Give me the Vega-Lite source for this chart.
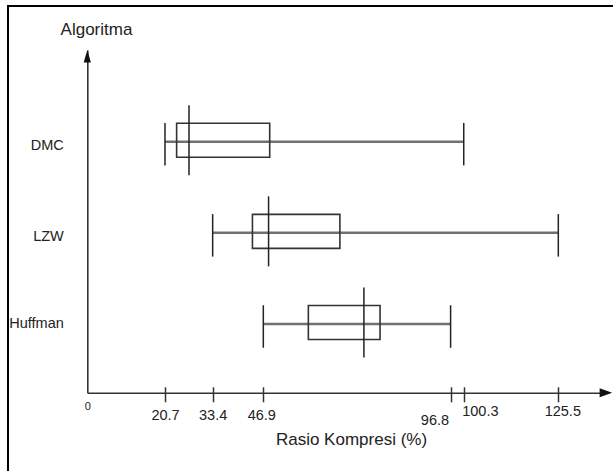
{
  "$schema": "https://vega.github.io/schema/vega-lite/v6.json",
  "width": 605,
  "height": 465,
  "autosize": "none",
  "padding": {"left": 8, "top": 6, "right": 0, "bottom": 0},
  "background": "white",
  "data": {"values": [
    {"algo": "DMC", "min": 20.7, "q1": 23.8, "median": 27.1, "q3": 48.6, "max": 100.3},
    {"algo": "LZW", "min": 33.4, "q1": 44.0, "median": 48.3, "q3": 67.3, "max": 125.5},
    {"algo": "Huffman", "min": 46.9, "q1": 58.9, "median": 73.7, "q3": 78.0, "max": 96.8}
  ]},
  "resolve": {"axis": {"x": "independent"}},
  "layer": [
    {
      "mark": {"type": "rule", "color": "#707070", "strokeWidth": 2.5},
      "encoding": {
        "x": {
          "field": "min", "type": "quantitative",
          "scale": {"domain": [0, 136.5], "range": [79.3, 591.6], "zero": false, "nice": false},
          "axis": {"orient": "bottom", "offset": -78.2, "domain": true, "domainColor": "#333", "domainWidth": 1.6, "ticks": false, "labels": false, "title": null, "grid": false}
        },
        "x2": {"field": "max"},
        "y": {
          "field": "algo", "type": "nominal",
          "scale": {"domain": ["DMC", "LZW", "Huffman"], "range": [44, 386.8], "paddingInner": 0, "paddingOuter": 0.3804, "align": 0.665, "round": false},
          "axis": {
            "orient": "left", "offset": -79.3, "domain": true, "domainColor": "#333", "domainWidth": 1.6,
            "ticks": false, "grid": false,
            "labelFontSize": 14.5, "labelColor": "#222", "labelPadding": 24,
            "labelOffset": {"condition": {"test": "datum.value == 'Huffman'", "value": 0}, "value": 4.5},
            "title": "Algoritma", "titleAngle": 0, "titleX": 8.7, "titleY": 28,
            "titleAlign": "center", "titleBaseline": "alphabetic",
            "titleFontSize": 17, "titleFontWeight": "normal", "titleColor": "#222"
          }
        }
      }
    },
    {
      "layer": [
        {
          "mark": {"type": "bar", "height": 34, "yOffset": -1.5, "fill": "white", "fillOpacity": 0, "stroke": "#333", "strokeWidth": 1.6},
          "encoding": {
            "x": {
              "field": "q1", "type": "quantitative", "title": "Rasio Kompresi (%)",
              "axis": {
                "orient": "bottom", "offset": -84.2, "domain": false, "grid": false,
                "values": [0, 20.7, 33.4, 46.9, 96.8, 100.3, 125.5],
                "labelExpr": "datum.value == 0 ? '0' : format(datum.value, '.1f')",
                "tickSize": 15, "tickWidth": 1.5, "tickColor": "#333",
                "tickOpacity": {"condition": {"test": "datum.value == 0", "value": 0}, "value": 1},
                "labelFontSize": {"condition": {"test": "datum.value == 0", "value": 11}, "value": 14.5},
                "labelColor": "#222",
                "labelAlign": {"condition": [{"test": "datum.value == 96.8", "value": "right"}, {"test": "datum.value == 100.3", "value": "left"}], "value": "center"},
                "labelPadding": {"condition": [{"test": "datum.value == 0", "value": -1.8}, {"test": "datum.value == 96.8", "value": 11.5}, {"test": "datum.value >= 100", "value": 3}], "value": 6.6},
                "labelOffset": {"condition": [{"test": "datum.value == 125.5", "value": 4}, {"test": "datum.value == 46.9 || datum.value == 96.8 || datum.value == 100.3", "value": -2}], "value": 0},
                "labelFlush": false, "labelOverlap": false, "labelBound": false,
                "title": "Rasio Kompresi (%)", "titleX": 343, "titleY": 57.2,
                "titleAlign": "center", "titleBaseline": "alphabetic",
                "titleFontSize": 17, "titleFontWeight": "normal", "titleColor": "#222"
              }
            },
            "x2": {"field": "q3"},
            "y": {"field": "algo", "type": "nominal"}
          }
        },
        {
          "mark": {"type": "tick", "orient": "vertical", "size": 70, "thickness": 1.5, "color": "#222", "yOffset": -1.5, "opacity": 1},
          "encoding": {
            "x": {"field": "median", "type": "quantitative", "title": "Rasio Kompresi (%)"},
            "y": {"field": "algo", "type": "nominal"}
          }
        },
        {
          "mark": {"type": "tick", "orient": "vertical", "size": 42.5, "thickness": 1.5, "color": "#222", "yOffset": 2.5, "opacity": 1},
          "encoding": {
            "x": {"field": "min", "type": "quantitative", "title": "Rasio Kompresi (%)"},
            "y": {"field": "algo", "type": "nominal"}
          }
        },
        {
          "mark": {"type": "tick", "orient": "vertical", "size": 42.5, "thickness": 1.5, "color": "#222", "yOffset": 2.5, "opacity": 1},
          "encoding": {
            "x": {"field": "max", "type": "quantitative", "title": "Rasio Kompresi (%)"},
            "y": {"field": "algo", "type": "nominal"}
          }
        },
        {
          "data": {"values": [{"end": "y"}]},
          "mark": {"type": "point", "shape": "M0,0L0.6,2.1L-0.6,2.1Z", "size": 144, "filled": true, "color": "#111", "opacity": 1, "strokeWidth": 0},
          "encoding": {
            "x": {"datum": 0},
            "y": {"value": 44}
          }
        },
        {
          "data": {"values": [{"end": "x"}]},
          "mark": {"type": "point", "shape": "M0,-0.75L2.1,0L0,0.75Z", "size": 144, "filled": true, "color": "#111", "opacity": 1, "strokeWidth": 0},
          "encoding": {
            "x": {"datum": 136.5},
            "y": {"value": 386.8}
          }
        }
      ]
    }
  ],
  "config": {
    "font": "'Liberation Sans', Arial, sans-serif",
    "view": {"stroke": "#000", "strokeWidth": 2, "strokeDash": [605, 1070, 465]},
    "axis": {
      "labelFont": "'Liberation Sans', Arial, sans-serif",
      "titleFont": "'Liberation Sans', Arial, sans-serif"
    }
  }
}
